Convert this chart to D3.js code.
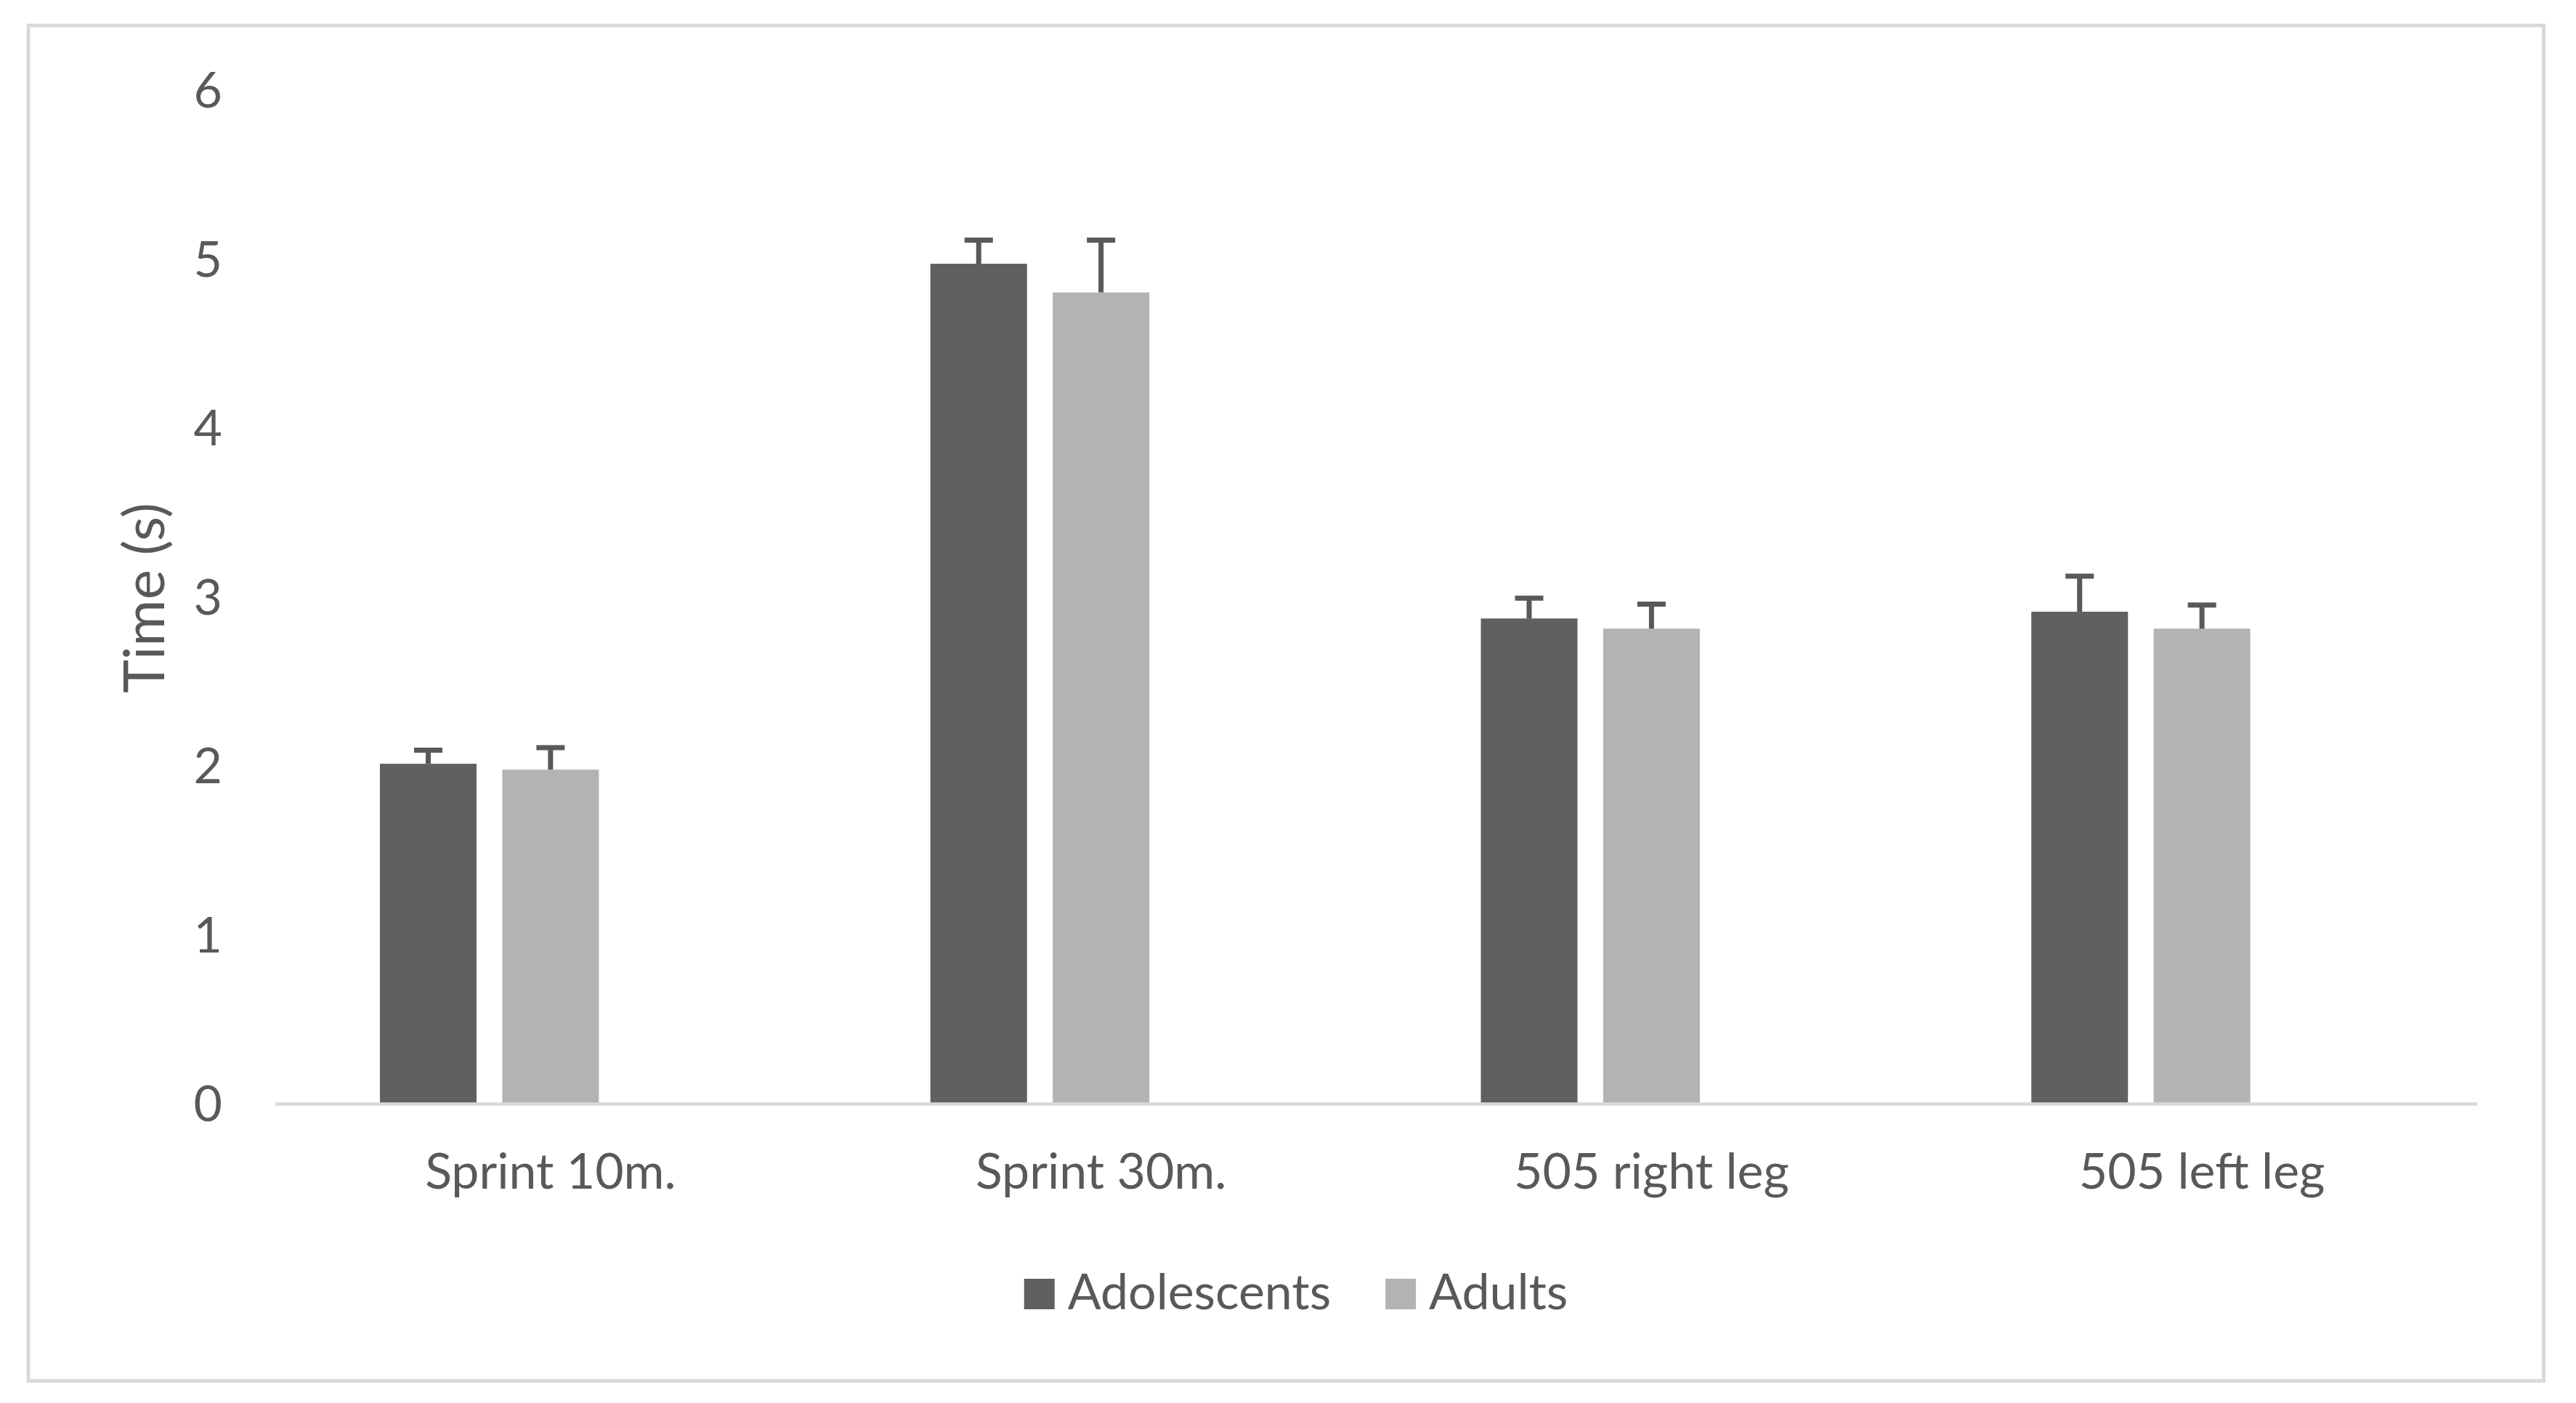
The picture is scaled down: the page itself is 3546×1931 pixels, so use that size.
<!DOCTYPE html>
<html>
<head>
<meta charset="utf-8">
<script src="https://cdn.jsdelivr.net/npm/d3@7"></script>
<style>
  html, body { margin: 0; padding: 0; background: #fff; }
  svg { display: block; }
  text { font-family: Lato, "Open Sans", sans-serif; fill: #595959; }
</style>
</head>
<body>
<div id="chart"></div>
<script>
var categories = ["Sprint 10m.", "Sprint 30m.", "505 right leg", "505 left leg"];
var seriesNames = ["Adolescents", "Adults"];
var seriesColors = ["#606060", "#b3b3b3"];
var adolescentsMean = [2.01, 4.97, 2.87, 2.91];
var adolescentsSD = [0.08, 0.14, 0.12, 0.21];
var adultsMean = [1.975, 4.80, 2.81, 2.81];
var adultsSD = [0.13, 0.31, 0.145, 0.14];
var yTicks = [0, 1, 2, 3, 4, 5, 6];

var W = 3546, H = 1931;
var margin = {top: 123.5, right: 136, bottom: 412.5, left: 379};
var width = W - margin.left - margin.right,
    height = H - margin.top - margin.bottom;
var fontSize = "68px";

var svgBare = d3.select("#chart").append("svg")
    .attr("width", W)
    .attr("height", H);

// outer chart border
svgBare.append("rect")
    .attr("x", 39).attr("y", 35)
    .attr("width", 3501.5 - 39).attr("height", 1900.5 - 35)
    .attr("fill", "none").attr("stroke", "#d9d9d9").attr("stroke-width", 5);

var svg = svgBare.append("g")
    .attr("transform", "translate(" + margin.left + "," + margin.top + ")");

var rows = categories.map(function(c, i){
    return {cat: c, values: [
        {key: 0, mean: adolescentsMean[i], sd: adolescentsSD[i]},
        {key: 1, mean: adultsMean[i], sd: adultsSD[i]}
    ]};
});

var x0 = d3.scaleBand().domain(categories).range([0, width]);
// the original chart keeps an empty third slot in each group
var x1 = d3.scaleBand().domain([0, 1, 2]).range([0, x0.bandwidth()])
    .paddingInner(0.21).paddingOuter(0.855);
var y = d3.scaleLinear().domain([0, 6]).range([height, 0]);

// y axis labels
var yAxis = svg.append("g")
    .call(d3.axisLeft(y).tickValues(yTicks).tickSize(0).tickPadding(73).tickFormat(d3.format("d")));
yAxis.select(".domain").remove();
yAxis.selectAll("text")
    .attr("dy", "0.36em")
    .style("font-size", fontSize)
    .style("font-family", "Lato")
    .attr("fill", "#595959");

// bars
var groups = svg.selectAll(".grp")
    .data(rows).enter().append("g")
    .attr("class", "grp")
    .attr("transform", function(d){ return "translate(" + x0(d.cat) + ",0)"; });

groups.selectAll("rect")
    .data(function(d){ return d.values; })
    .enter().append("rect")
    .attr("x", function(d){ return x1(d.key); })
    .attr("y", function(d){ return y(d.mean); })
    .attr("width", x1.bandwidth())
    .attr("height", function(d){ return y(0) - y(d.mean); })
    .attr("fill", function(d){ return seriesColors[d.key]; });

// error bars (upper only)
var capW = 39;
groups.selectAll(".err")
    .data(function(d){ return d.values; })
    .enter().append("path")
    .attr("class", "err")
    .attr("d", function(d){
        var cx = x1(d.key) + x1.bandwidth() / 2;
        var top = y(d.mean + d.sd);
        return "M" + cx + "," + y(d.mean) + "V" + top + "M" + (cx - capW/2) + "," + top + "H" + (cx + capW/2);
    })
    .attr("fill", "none")
    .attr("stroke", "#595959")
    .attr("stroke-width", 7);

// x axis line
svg.append("line")
    .attr("x1", 0).attr("x2", width)
    .attr("y1", y(0) + 1).attr("y2", y(0) + 1)
    .attr("stroke", "#d9d9d9").attr("stroke-width", 4.5);

// category labels
var xAxis = svg.append("g")
    .attr("transform", "translate(0," + height + ")")
    .call(d3.axisBottom(x0).tickSize(0));
xAxis.select(".domain").remove();
xAxis.selectAll("text")
    .attr("y", 117.5).attr("dy", 0)
    .style("font-size", fontSize)
    .style("font-family", "Lato")
    .attr("fill", "#595959");

// y axis title
svgBare.append("text")
    .attr("transform", "translate(226,823) rotate(-90)")
    .attr("text-anchor", "middle")
    .style("font-size", "78px")
    .text("Time (s)");

// legend
var legend = svgBare.append("g");
var lx = 0;
seriesNames.forEach(function(name, i){
    var item = legend.append("g").attr("transform", "translate(" + lx + ",0)");
    item.append("rect").attr("x", 0).attr("y", 1760).attr("width", 42).attr("height", 42)
        .attr("fill", seriesColors[i]);
    var t = item.append("text").attr("x", 60).attr("y", 1802)
        .style("font-size", fontSize).text(name);
    lx += 60 + t.node().getComputedTextLength() + 75;
});
var legendW = lx - 75;
legend.attr("transform", "translate(" + (1784 - legendW / 2) + ",0)");
</script>
</body>
</html>
